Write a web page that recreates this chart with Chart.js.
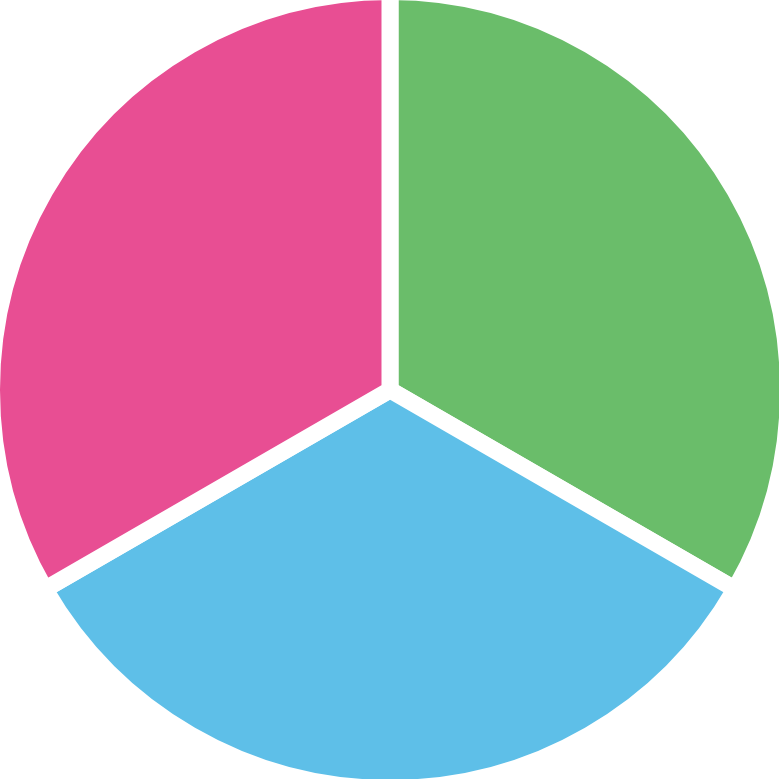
<!DOCTYPE html>
<html>
<head>
<meta charset="utf-8">
<script src="https://cdn.jsdelivr.net/npm/chart.js@4/dist/chart.umd.min.js"></script>
<style>
  html, body { margin: 0; padding: 0; background: #ffffff; overflow: hidden; width: 779px; height: 779px; }
  #wrap { position: absolute; left: -17.5px; top: -17.5px; width: 814px; height: 814px; }
</style>
</head>
<body>
<div id="wrap"><canvas id="c"></canvas></div>
<script>
const categories = ["A", "B", "C"];
const values = [1, 1, 1];
const colors = ["#6abd6a", "#5ebfe8", "#e84e93"];

new Chart(document.getElementById('c'), {
  type: 'pie',
  data: {
    labels: categories,
    datasets: [{
      data: values,
      backgroundColor: colors,
      borderColor: '#ffffff',
      borderWidth: 17,
      hoverOffset: 0
    }]
  },
  options: {
    responsive: true,
    maintainAspectRatio: false,
    animation: false,
    layout: { padding: 0 },
    plugins: { legend: { display: false }, tooltip: { enabled: false } }
  }
});
</script>
</body>
</html>
